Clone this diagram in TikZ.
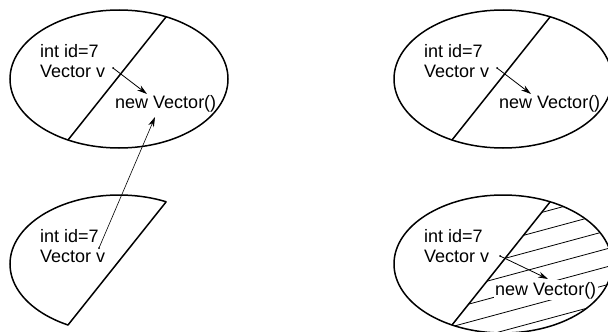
\documentclass[tikz,border=0pt]{standalone}
\usepackage{fontspec}
\setmainfont{Liberation Sans}
\usetikzlibrary{arrows.meta}

\tikzset{
  code/.style={font=\fontsize{18}{20}\selectfont,inner sep=0pt,anchor=base west},
  obj/.style={line width=1.5pt},
  ref/.style={-{Stealth[length=10pt,width=6pt]},line width=0.8pt},
  hatch/.style={line width=0.8pt},
}

\begin{document}
\begin{tikzpicture}[x=1pt,y=-1pt]
  \useasboundingbox (0,0) rectangle (608,332);
  % top left: v still points at the object
  \begin{scope}
    \node[code] (idA) at (40,57) {int id=7};
    \node[code] (vA) at (40,77) {Vector v};
    \node[code] (newA) at (115,108) {new Vector()};
    \coordinate (vA-ptr) at (113,68);
    \coordinate (newA-in) at (147,94);
    \coordinate (newA-low) at (155,117);
    \draw[obj] (119,79) ellipse [x radius=109, y radius=69];
    \draw[obj] (166,17) -- (68,140);
    \fill (vA-ptr) circle (1);
    \draw[ref] (vA-ptr) -- (newA-in);
  \end{scope}
  % bottom left: the left half only
  \begin{scope}[shift={(0,185)}]
    \node[code] (idB) at (40,57) {int id=7};
    \node[code] (vB) at (40,77) {Vector v};
    \coordinate (vB-ptr) at (99,63);
    \begin{scope}
      \clip (195.5,-20) -- (58.4,152) -- (-5,152) -- (-5,-20) -- cycle;
      \draw[obj] (119,79) ellipse [x radius=109, y radius=69];
    \end{scope}
    \draw[obj,line cap=round] (166,17) -- (68,140);
  \end{scope}
  \fill (vB-ptr) circle (1);
  \draw[ref,line width=0.6pt] (vB-ptr) -- (newA-low);
  % top right
  \begin{scope}[shift={(384,0)}]
    \node[code] (idC) at (40,57) {int id=7};
    \node[code] (vC) at (40,77) {Vector v};
    \node[code] (newC) at (115,108) {new Vector()};
    \coordinate (vC-ptr) at (113,68);
    \coordinate (newC-in) at (147,94);
    \draw[obj] (119,79) ellipse [x radius=109, y radius=69];
    \draw[obj] (166,17) -- (68,140);
    \fill (vC-ptr) circle (1);
    \draw[ref] (vC-ptr) -- (newC-in);
  \end{scope}
  % bottom right: hatched half
  \begin{scope}[shift={(384,185)}]
    \begin{scope}
      \clip (119,79) ellipse [x radius=109, y radius=69];
      \clip (195.5,-20) -- (58.4,152) -- (240,152) -- (240,-20) -- cycle;
      \foreach \c in {70,88,...,178}
        \draw[hatch] (40,{\c-10.8}) -- (240,{\c-64.8});
    \end{scope}
    \node[code] (idD) at (40,57) {int id=7};
    \node[code] (vD) at (40,77) {Vector v};
    \node[code,fill=white,inner sep=1.5pt] (newD) at (109.5,110) {new Vector()};
    \coordinate (vD-ptr) at (116,71);
    \coordinate (newD-in) at (164,94);
    \draw[obj] (119,79) ellipse [x radius=109, y radius=69];
    \draw[obj] (166,17) -- (68,140);
    \fill (vD-ptr) circle (1);
    \draw[ref] (vD-ptr) -- (newD-in);
  \end{scope}
\end{tikzpicture}
\end{document}
